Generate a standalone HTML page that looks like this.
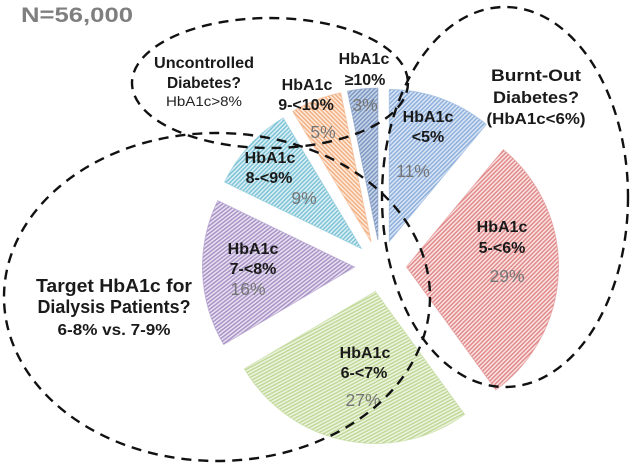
<!DOCTYPE html>
<html>
<head>
<meta charset="utf-8">
<style>
html,body{margin:0;padding:0;background:#fff;width:634px;height:467px;overflow:hidden}
svg{display:block}
text{font-family:"Liberation Sans","DejaVu Sans",sans-serif;text-anchor:middle}
.b{font-weight:700;font-size:16px;fill:#1a1a1a}
.p{font-size:17.5px;fill:#767676}
.e{fill:none;stroke:#111;stroke-width:2.4;stroke-dasharray:10 7}
</style>
</head>
<body>
<svg id="chart" width="634" height="467" viewBox="0 0 634 467" xmlns="http://www.w3.org/2000/svg">
<defs id="defs"></defs>
<g id="slices"></g>
<g>
<text class="b" x="428" y="122">HbA1c</text>
<text class="b" x="428" y="142">&lt;5%</text>
<text class="p" x="413" y="177">11%</text>
<text class="b" x="502" y="232">HbA1c</text>
<text class="b" x="502" y="253">5-&lt;6%</text>
<text class="p" x="507" y="282">29%</text>
<text class="b" x="365" y="358">HbA1c</text>
<text class="b" x="364" y="378">6-&lt;7%</text>
<text class="p" x="363" y="406">27%</text>
<text class="b" x="253" y="254">HbA1c</text>
<text class="b" x="253" y="274">7-&lt;8%</text>
<text class="p" x="248" y="295">16%</text>
<text class="b" x="270" y="163">HbA1c</text>
<text class="b" x="269" y="183">8-&lt;9%</text>
<text class="p" x="304" y="204">9%</text>
<text class="b" x="307" y="90">HbA1c</text>
<text class="b" x="306" y="110">9-&lt;10%</text>
<text class="p" x="323" y="138">5%</text>
<text class="b" x="364" y="64">HbA1c</text>
<text class="b" x="365" y="85">≥10%</text>
<text class="p" x="365" y="111">3%</text>
</g>
<g>
<text x="77" y="22" textLength="112" lengthAdjust="spacingAndGlyphs" style="font-size:21.5px;font-weight:700;fill:#7f7f7f">N=56,000</text>
<text class="b" x="204" y="68" textLength="100" lengthAdjust="spacingAndGlyphs">Uncontrolled</text>
<text class="b" x="204" y="88" textLength="74" lengthAdjust="spacingAndGlyphs">Diabetes?</text>
<text x="204" y="106" textLength="76" lengthAdjust="spacingAndGlyphs" style="font-size:13.5px;fill:#222">HbA1c&gt;8%</text>
<text class="b" x="536" y="81" textLength="90" lengthAdjust="spacingAndGlyphs" style="font-size:17px">Burnt-Out</text>
<text class="b" x="536" y="103" textLength="86" lengthAdjust="spacingAndGlyphs" style="font-size:17px">Diabetes?</text>
<text class="b" x="536" y="124" textLength="99" lengthAdjust="spacingAndGlyphs" style="font-size:15.5px">(HbA1c&lt;6%)</text>
<text class="b" x="114" y="292" textLength="156" lengthAdjust="spacingAndGlyphs" style="font-size:18.5px">Target HbA1c for</text>
<text class="b" x="114" y="313" textLength="153" lengthAdjust="spacingAndGlyphs" style="font-size:18.5px">Dialysis Patients?</text>
<text class="b" x="114" y="335" textLength="113" lengthAdjust="spacingAndGlyphs" style="font-size:15.5px">6-8% vs. 7-9%</text>
</g>
<g>
<ellipse class="e" cx="217" cy="297" rx="213" ry="164"></ellipse>
<ellipse class="e" cx="270" cy="83" rx="138" ry="65"></ellipse>
<ellipse class="e" cx="505" cy="197" rx="123" ry="190"></ellipse>
</g>
</svg>
<script>
const categories = ["under-5", "5-6", "6-7", "7-8", "8-9", "9-10", "over-10"];
const shares = [11, 29, 26.5, 15.7, 9.2, 5.4, 3.2];
const stripeColors = ["#8fb0dc", "#e08a8a", "#c0d898", "#a994c6", "#7cc3d6", "#f3b083", "#7d98c2"];
const paleColors = ["#dbe6f5", "#fbe3e3", "#eef4e0", "#e8e1f1", "#def0f5", "#fdebdd", "#c9d5e8"];
const stripeAngles = [-45, -45, -28, -38, -45, 45, -45];

const SVGNS = "http://www.w3.org/2000/svg";
const cx = 380.5, cy = 266, radius = 152, explode = 26;
const total = shares.reduce(function (a, b) { return a + b; }, 0);
function angleOf(cumulative) { return cumulative / total * 2 * Math.PI; }
function px(x0, a, r) { return x0 + Math.sin(a) * r; }
function py(y0, a, r) { return y0 - Math.cos(a) * r; }

const defs = document.getElementById("defs");
const group = document.getElementById("slices");
let running = 0;
shares.forEach(function (share, i) {
  const a0 = angleOf(running);
  running += share;
  const a1 = angleOf(running);
  const mid = (a0 + a1) / 2;
  const ax = px(cx, mid, explode), ay = py(cy, mid, explode);

  const pat = document.createElementNS(SVGNS, "pattern");
  pat.setAttribute("id", "hatch" + i);
  pat.setAttribute("width", "3");
  pat.setAttribute("height", "3");
  pat.setAttribute("patternUnits", "userSpaceOnUse");
  pat.setAttribute("patternTransform", "rotate(" + stripeAngles[i] + ")");
  const bg = document.createElementNS(SVGNS, "rect");
  bg.setAttribute("width", "3");
  bg.setAttribute("height", "3");
  bg.setAttribute("fill", paleColors[i]);
  pat.appendChild(bg);
  const st = document.createElementNS(SVGNS, "rect");
  st.setAttribute("width", "3");
  st.setAttribute("height", "1.5");
  st.setAttribute("fill", stripeColors[i]);
  pat.appendChild(st);
  defs.appendChild(pat);

  const large = (a1 - a0) > Math.PI ? 1 : 0;
  const d = "M" + ax + " " + ay +
    "L" + px(ax, a0, radius) + " " + py(ay, a0, radius) +
    "A" + radius + " " + radius + " 0 " + large + " 1 " + px(ax, a1, radius) + " " + py(ay, a1, radius) + "Z";
  const path = document.createElementNS(SVGNS, "path");
  path.setAttribute("d", d);
  path.setAttribute("fill", "url(#hatch" + i + ")");
  path.setAttribute("stroke", stripeColors[i]);
  path.setAttribute("stroke-width", "1");
  path.setAttribute("stroke-opacity", "0.6");
  
  
  group.appendChild(path);
});
</script>
</body>
</html>
